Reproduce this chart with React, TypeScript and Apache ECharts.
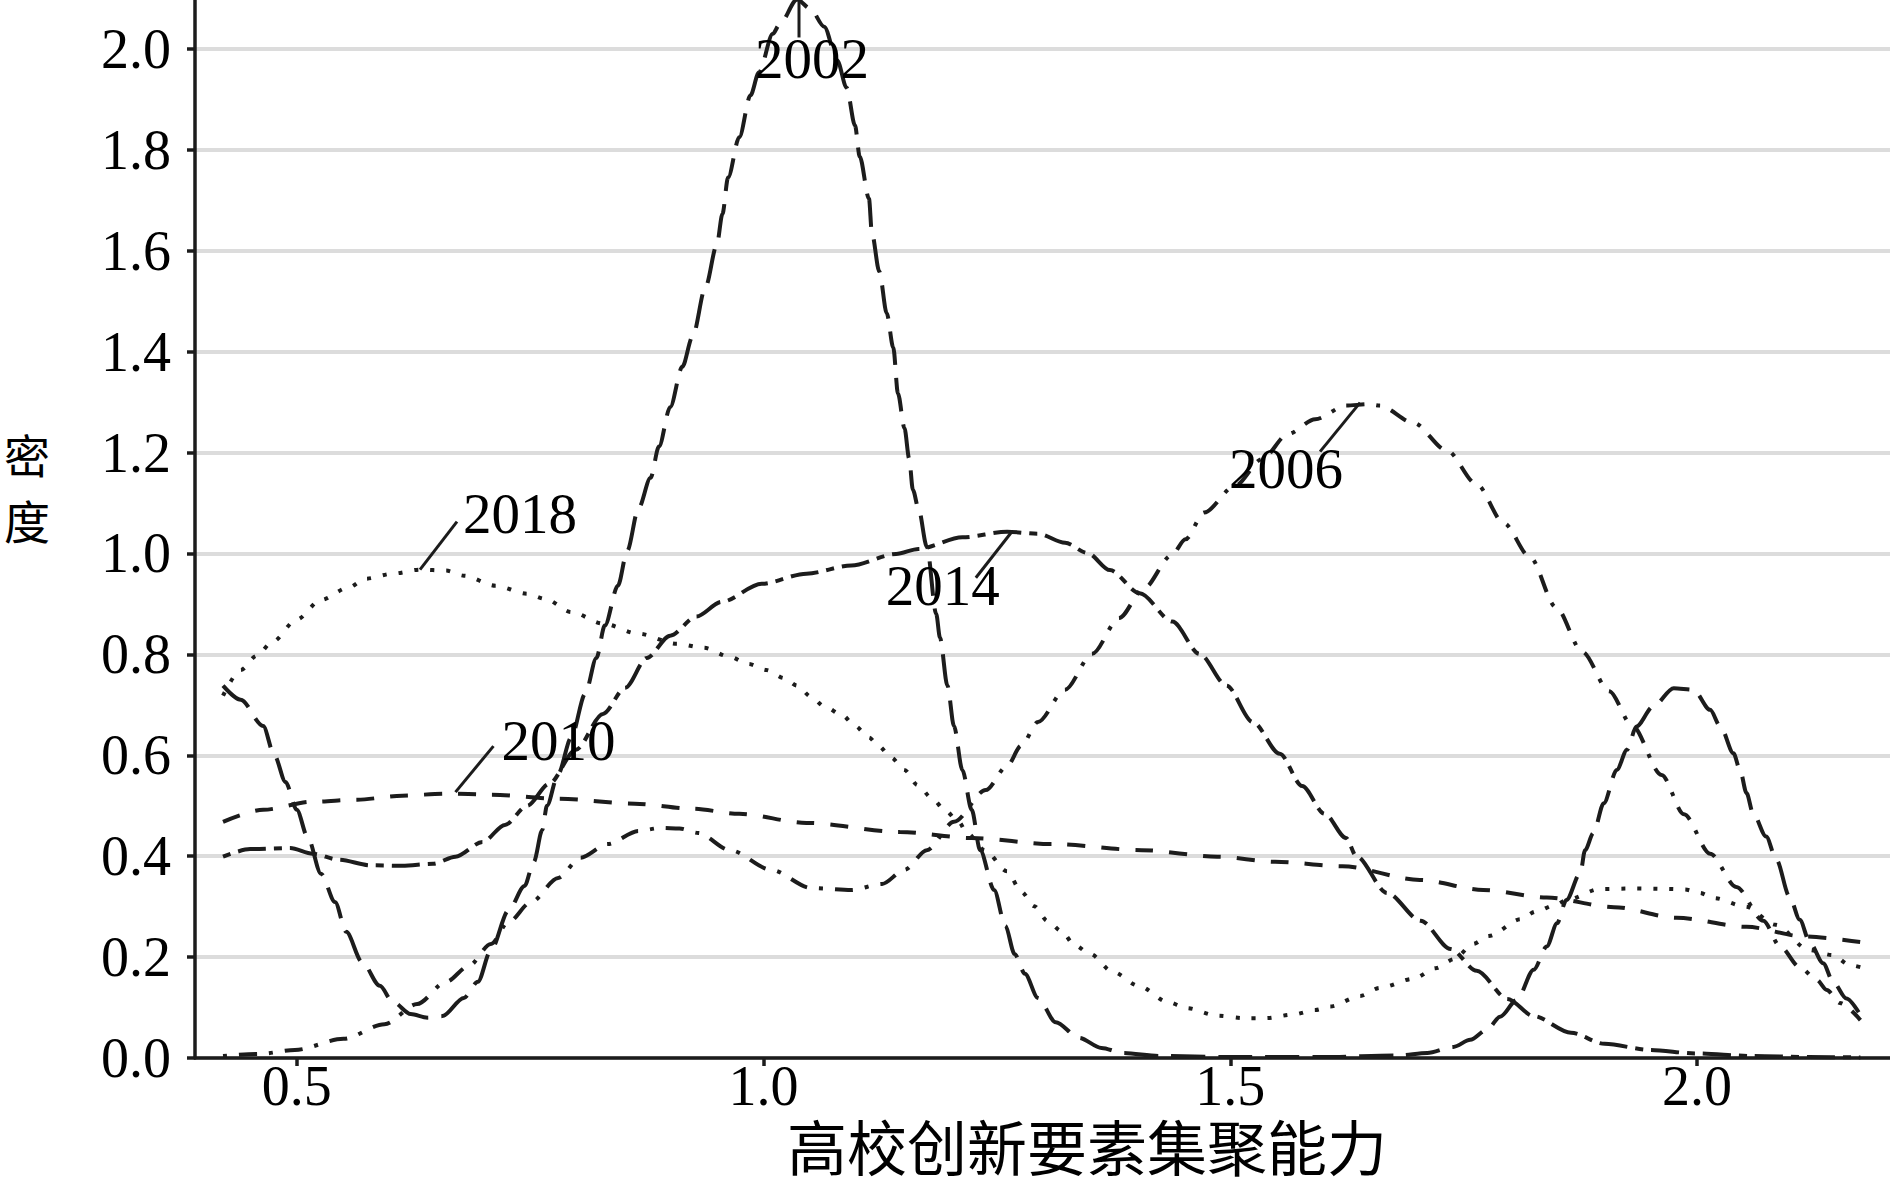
import React, { useEffect, useRef } from "react";
import * as echarts from "echarts";

// ---- data ----
const xTickValues = [0.5, 1.0, 1.5, 2.0];
const yearNames = ["2002", "2006", "2010", "2014", "2018"];
const xTitle = "高校创新要素集聚能力";
const yTitleChars = ["密", "度"];

const d2002: [number, number][] = [
  [0.421, 0.738], [0.44, 0.71], [0.464, 0.658], [0.476, 0.6], [0.488, 0.547], [0.5, 0.492], [0.512, 0.436],
  [0.526, 0.365], [0.541, 0.309], [0.553, 0.25], [0.57, 0.19], [0.589, 0.143], [0.603, 0.111], [0.622, 0.087],
  [0.64, 0.08], [0.656, 0.083], [0.679, 0.119], [0.694, 0.151], [0.708, 0.214], [0.727, 0.293], [0.744, 0.341],
  [0.754, 0.389], [0.763, 0.452], [0.768, 0.5], [0.78, 0.563], [0.794, 0.635], [0.809, 0.722], [0.821, 0.793],
  [0.83, 0.857], [0.844, 0.936], [0.854, 1.005], [0.866, 1.089], [0.879, 1.15], [0.888, 1.212], [0.9, 1.29],
  [0.913, 1.37], [0.924, 1.43], [0.938, 1.529], [0.95, 1.612], [0.956, 1.673], [0.962, 1.745], [0.974, 1.825],
  [0.986, 1.908], [0.995, 1.953], [1.01, 2.03], [1.017, 2.048], [1.036, 2.098], [1.05, 2.08], [1.065, 2.044],
  [1.079, 1.977], [1.089, 1.923], [1.098, 1.848], [1.103, 1.787], [1.113, 1.703], [1.116, 1.636], [1.124, 1.559],
  [1.132, 1.476], [1.139, 1.408], [1.144, 1.317], [1.151, 1.248], [1.156, 1.188], [1.16, 1.126], [1.166, 1.089],
  [1.175, 1.013], [1.185, 0.88], [1.189, 0.833], [1.197, 0.738], [1.204, 0.658], [1.213, 0.571], [1.223, 0.492],
  [1.232, 0.412], [1.247, 0.333], [1.259, 0.262], [1.269, 0.206], [1.28, 0.167], [1.294, 0.119], [1.313, 0.071],
  [1.338, 0.04], [1.362, 0.02], [1.385, 0.01], [1.424, 0.004], [1.5, 0.002], [1.6, 0.002], [1.68, 0.005],
  [1.711, 0.01], [1.739, 0.022], [1.757, 0.036], [1.775, 0.056], [1.789, 0.082], [1.807, 0.115], [1.825, 0.175],
  [1.839, 0.221], [1.85, 0.267], [1.86, 0.313], [1.875, 0.367], [1.88, 0.412], [1.889, 0.446], [1.9, 0.505],
  [1.914, 0.571], [1.925, 0.611], [1.935, 0.657], [1.953, 0.697], [1.975, 0.733], [1.996, 0.73], [2.014, 0.69],
  [2.025, 0.657], [2.039, 0.604], [2.046, 0.571], [2.053, 0.525], [2.06, 0.485], [2.074, 0.439], [2.085, 0.393],
  [2.099, 0.32], [2.11, 0.274], [2.121, 0.228], [2.135, 0.188], [2.146, 0.15], [2.16, 0.118], [2.175, 0.085],
];

const d2006: [number, number][] = [
  [0.421, 0.004], [0.46, 0.008], [0.498, 0.016], [0.55, 0.038], [0.594, 0.067], [0.629, 0.107], [0.66, 0.151],
  [0.684, 0.182], [0.708, 0.226], [0.727, 0.27], [0.751, 0.309], [0.78, 0.357], [0.804, 0.397], [0.833, 0.424],
  [0.866, 0.45], [0.89, 0.456], [0.91, 0.455], [0.93, 0.446], [0.964, 0.412], [1.008, 0.373], [1.051, 0.337],
  [1.094, 0.333], [1.127, 0.345], [1.151, 0.373], [1.175, 0.412], [1.204, 0.468], [1.238, 0.531], [1.261, 0.579],
  [1.276, 0.619], [1.294, 0.666], [1.323, 0.73], [1.352, 0.801], [1.381, 0.872], [1.407, 0.93], [1.437, 0.996],
  [1.452, 1.028], [1.472, 1.081], [1.505, 1.134], [1.534, 1.187], [1.562, 1.237], [1.591, 1.266], [1.624, 1.293],
  [1.648, 1.296], [1.66, 1.293], [1.696, 1.259], [1.732, 1.204], [1.764, 1.137], [1.793, 1.06], [1.821, 0.993],
  [1.849, 0.893], [1.877, 0.805], [1.906, 0.727], [1.93, 0.66], [1.962, 0.561], [1.986, 0.483], [2.014, 0.405],
  [2.042, 0.339], [2.071, 0.272], [2.089, 0.221], [2.11, 0.18], [2.128, 0.155], [2.139, 0.135], [2.153, 0.109],
  [2.175, 0.075],
];

const d2010: [number, number][] = [
  [0.421, 0.468], [0.464, 0.492], [0.517, 0.508], [0.565, 0.512], [0.613, 0.52], [0.66, 0.524], [0.708, 0.522],
  [0.78, 0.514], [0.862, 0.504], [0.924, 0.494], [0.974, 0.484], [1.046, 0.466], [1.146, 0.448], [1.223, 0.436],
  [1.309, 0.424], [1.405, 0.412], [1.486, 0.399], [1.548, 0.389], [1.62, 0.38], [1.703, 0.353], [1.771, 0.333],
  [1.839, 0.318], [1.911, 0.299], [1.978, 0.278], [2.053, 0.26], [2.114, 0.241], [2.175, 0.23],
];

const d2014: [number, number][] = [
  [0.421, 0.399], [0.45, 0.414], [0.493, 0.416], [0.517, 0.405], [0.545, 0.393], [0.579, 0.382], [0.613, 0.381],
  [0.646, 0.385], [0.67, 0.399], [0.699, 0.428], [0.723, 0.462], [0.747, 0.5], [0.77, 0.543], [0.799, 0.611],
  [0.828, 0.682], [0.852, 0.734], [0.875, 0.793], [0.9, 0.837], [0.928, 0.875], [0.955, 0.904], [0.998, 0.94],
  [1.046, 0.96], [1.094, 0.976], [1.142, 0.999], [1.166, 1.009], [1.213, 1.032], [1.261, 1.043], [1.294, 1.039],
  [1.323, 1.021], [1.347, 1.001], [1.371, 0.967], [1.403, 0.921], [1.438, 0.865], [1.467, 0.801], [1.496, 0.738],
  [1.524, 0.666], [1.553, 0.603], [1.577, 0.539], [1.601, 0.484], [1.624, 0.436], [1.635, 0.4], [1.668, 0.327],
  [1.704, 0.272], [1.736, 0.216], [1.764, 0.173], [1.797, 0.117], [1.825, 0.083], [1.865, 0.05], [1.901, 0.028],
  [1.95, 0.016], [1.998, 0.009], [2.059, 0.004], [2.12, 0.002], [2.175, 0.001],
];

const d2018: [number, number][] = [
  [0.421, 0.718], [0.44, 0.769], [0.457, 0.797], [0.474, 0.825], [0.5, 0.869], [0.526, 0.908], [0.555, 0.932],
  [0.574, 0.95], [0.603, 0.96], [0.632, 0.968], [0.66, 0.966], [0.679, 0.956], [0.713, 0.936], [0.747, 0.92],
  [0.766, 0.91], [0.794, 0.884], [0.828, 0.861], [0.866, 0.841], [0.907, 0.821], [0.936, 0.813], [0.964, 0.795],
  [0.984, 0.781], [1.003, 0.769], [1.022, 0.753], [1.036, 0.738], [1.051, 0.716], [1.065, 0.697], [1.084, 0.68],
  [1.098, 0.658], [1.113, 0.635], [1.123, 0.619], [1.137, 0.595], [1.151, 0.571], [1.165, 0.541], [1.18, 0.516],
  [1.194, 0.492], [1.209, 0.468], [1.218, 0.446], [1.237, 0.412], [1.261, 0.37], [1.276, 0.33], [1.29, 0.301],
  [1.304, 0.272], [1.319, 0.252], [1.333, 0.224], [1.35, 0.206], [1.374, 0.171], [1.402, 0.143], [1.433, 0.111],
  [1.453, 0.099], [1.486, 0.084], [1.515, 0.079], [1.538, 0.079], [1.567, 0.086], [1.591, 0.095], [1.607, 0.102],
  [1.639, 0.123], [1.66, 0.139], [1.696, 0.157], [1.72, 0.178], [1.74, 0.196], [1.76, 0.226], [1.777, 0.242],
  [1.811, 0.275], [1.827, 0.29], [1.848, 0.303], [1.86, 0.313], [1.896, 0.335], [1.932, 0.336], [1.968, 0.335],
  [1.987, 0.334], [2.003, 0.327], [2.018, 0.317], [2.052, 0.3], [2.084, 0.264], [2.12, 0.214], [2.145, 0.204],
  [2.164, 0.184], [2.175, 0.18],
];

// label anchor points on the curves (data coordinates)
const labelAnchors: [number, number][] = [
  [1.038, 2.096], [1.639, 1.299], [0.67, 0.527], [1.266, 1.043], [0.632, 0.968],
];

export default function App() {
  const ref = useRef<HTMLDivElement>(null);

  useEffect(() => {
    if (!ref.current) return;
    const chart = echarts.init(ref.current, null, { renderer: "svg" });
    const ink = "#1c1c1c";
    const serif = "Liberation Serif";
    const cjk = "Noto Sans CJK SC";

    const datasets = [d2002, d2006, d2010, d2014, d2018];
    const dashes = [
      [34, 13],
      [4, 12, 18, 12],
      [18, 16],
      [8, 8, 28, 8],
      [4, 12],
    ];

    const series = datasets.map((data, i) => ({
      type: "line",
      name: yearNames[i],
      data,
      showSymbol: false,
      symbol: "none",
      smooth: 0.3,
      smoothMonotone: "x",
      silent: true,
      clip: true,
      z: 3,
      lineStyle: { color: ink, width: 4, type: dashes[i], cap: "butt" },
    }));

    chart.setOption({
      animation: false,
      backgroundColor: "#ffffff",
      grid: { left: 195, right: 1, top: 0, bottom: 119, containLabel: false, outerBoundsMode: "none" },
      xAxis: {
        type: "value",
        min: 0.391,
        max: 2.302,
        axisLine: { show: true, onZero: false, lineStyle: { color: ink, width: 3.5 } },
        axisTick: { show: true, length: 8, customValues: xTickValues, lineStyle: { color: ink, width: 3.5 } },
        axisLabel: {
          customValues: xTickValues,
          margin: 0,
          fontFamily: serif,
          fontSize: 56,
          color: "#000",
          formatter: (v: number) => v.toFixed(1),
        },
        splitLine: { show: false },
      },
      yAxis: {
        type: "value",
        min: 0,
        max: 2.2,
        interval: 0.2,
        axisLine: { show: true, onZero: false, lineStyle: { color: ink, width: 3.5 } },
        axisTick: { show: true, length: 8, lineStyle: { color: ink, width: 3.5 } },
        axisLabel: {
          margin: 24,
          fontFamily: serif,
          fontSize: 56,
          color: "#000",
          showMaxLabel: false,
          formatter: (v: number) => v.toFixed(1),
        },
        splitLine: { show: true, lineStyle: { color: "#dcdcdc", width: 4 } },
      },
      series,
    });

    const lineEnds = [[0, 37], [-40, 49], [38, -46], [-36, 46], [37, -48]];
    const textOffsets = [[13, 58], [-74, 66], [103, -52], [-69, 54], [100, -56]];

    const graphics: any[] = [];
    labelAnchors.forEach((a, i) => {
      const p = chart.convertToPixel({ gridIndex: 0 }, a) as number[];
      graphics.push({
        type: "line",
        z: 10,
        shape: { x1: p[0], y1: p[1], x2: p[0] + lineEnds[i][0], y2: p[1] + lineEnds[i][1] },
        style: { stroke: ink, lineWidth: 3 },
      });
      graphics.push({
        type: "text",
        z: 11,
        x: p[0] + textOffsets[i][0],
        y: p[1] + textOffsets[i][1],
        style: {
          text: yearNames[i],
          fontFamily: serif,
          fontSize: 57,
          fill: "#000",
          align: "center",
          verticalAlign: "middle",
        },
      });
    });
    yTitleChars.forEach((ch, i) => {
      graphics.push({
        type: "text",
        z: 11,
        x: 27,
        y: 505 + i * 66,
        style: {
          text: ch,
          fontFamily: cjk,
          fontSize: 46,
          fill: "#000",
          align: "center",
          verticalAlign: "middle",
        },
      });
    });
    // x-axis title, centred under the plotting area
    const gridRect = (chart as any).getModel().getComponent("grid").coordinateSystem.getRect();
    graphics.push({
      type: "text",
      z: 11,
      x: gridRect.x + gridRect.width / 2,
      y: 1196,
      style: {
        text: xTitle,
        fontFamily: cjk,
        fontSize: 60,
        fill: "#000",
        align: "center",
        verticalAlign: "middle",
      },
    });
    chart.setOption({ graphic: graphics });

    return () => chart.dispose();
  }, []);

  return (
    <div
      style={{
        position: "fixed",
        left: 0,
        top: 0,
        width: 1890,
        height: 1177,
        overflow: "hidden",
        background: "#ffffff",
      }}
    >
      <div ref={ref} style={{ position: "absolute", left: 0, top: -52, width: 1980, height: 1229 }} />
    </div>
  );
}
